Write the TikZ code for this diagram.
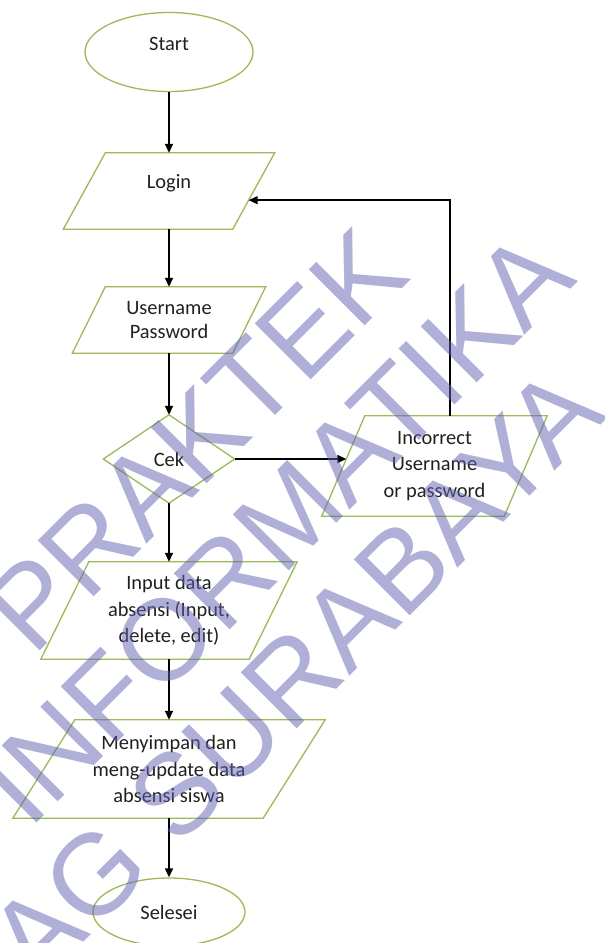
\documentclass[tikz,border=0pt]{standalone}
\usepackage{fontspec}
\setmainfont{Carlito}
\newfontfamily\wmfont{Liberation Sans}
\usetikzlibrary{shapes.geometric,arrows.meta,calc}
\definecolor{outline}{RGB}{155,187,89}
\definecolor{ink}{RGB}{32,32,32}
\definecolor{wm}{RGB}{96,96,176}
\begin{document}
\begin{tikzpicture}[x=1pt,y=-1pt,
  every node/.style={text=ink, font=\fontsize{20.4}{26.5}\selectfont, align=center, inner sep=0pt},
  shapeline/.style={draw=outline, line width=1.3pt, line join=miter},
  terminal/.style={ellipse, shapeline},
  para/.style={rectangle, append after command={\pgfextra{%
      \draw[shapeline] ([xshift=#1]\tikzlastnode.north west) -- (\tikzlastnode.north east)
        -- ([xshift=-#1]\tikzlastnode.south east) -- (\tikzlastnode.south west) -- cycle;}}},
  decision/.style={rectangle, append after command={\pgfextra{%
      \draw[shapeline] (\tikzlastnode.north) -- (\tikzlastnode.east)
        -- (\tikzlastnode.south) -- (\tikzlastnode.west) -- cycle;}}},
  arr/.style={draw=black, line width=1.5pt, -{Triangle[length=9pt,width=8pt]}},
  wmtext/.style={font=\wmfont\fontsize{115}{120}\selectfont, text=wm, text opacity=0.5, rotate=45}
]
\useasboundingbox (0,0) rectangle (605,943);
\clip (0,0) rectangle (605,943);
\fill[white] (0,0) rectangle (605,943);

% flowchart nodes
\node[terminal, minimum width=168pt, minimum height=79pt, text height=14pt, text depth=18pt] (start) at (169,52) {Start};
\node[para=42pt, minimum width=211pt, minimum height=76pt, text height=14pt, text depth=20pt] (login) at (169,191) {Login};
\node[para=33pt, minimum width=193pt, minimum height=66pt, font=\fontsize{20.4}{24}\selectfont] (user) at (169,320) {Username\\Password};
\node[decision, minimum width=131pt, minimum height=88pt] (cek) at (169,459) {Cek};
\node[para=43pt, minimum width=225pt, minimum height=100pt] (inc) at (434.5,466) {Incorrect\\Username\\or password};
\node[para=48pt, minimum width=256pt, minimum height=97pt] (input) at (169,610.5) {Input data\\absensi (Input,\\delete, edit)};
\node[para=62pt, minimum width=312pt, minimum height=98pt] (save) at (169,769) {Menyimpan dan\\meng-update data\\absensi siswa};
\node[terminal, minimum width=152pt, minimum height=68pt] (end) at (169,912) {Selesei};

% entry points on the slanted sides
\coordinate (incIn) at ($(inc.south west)!0.57!([xshift=43pt]inc.north west)$);
\coordinate (loginIn) at ($([xshift=-42pt]login.south east)!0.38!(login.north east)$);

% connectors
\draw[arr] (start.south) -- (login.north);
\draw[arr] (login.south) -- (user.north);
\draw[arr] (user.south) -- (cek.north);
\draw[arr] (cek.east) -- (cek.east -| incIn);
\draw[arr] ([xshift=15.5pt]inc.north) |- (loginIn);
\draw[arr] (cek.south) -- (input.north);
\draw[arr] (input.south) -- (save.north);
\draw[arr] (save.south) -- (end.north);

% watermark
\node[wmtext] (wm1) at (195,440) {PRAKTEK};
\node[wmtext] (wm2) at (276,528) {INFORMATIKA};
\node[wmtext] (wm3) at (295,675) {AG SURABAYA};
\end{tikzpicture}
\end{document}
